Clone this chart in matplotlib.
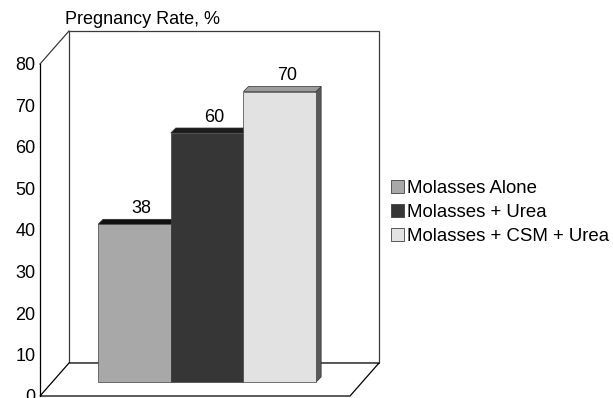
import matplotlib
matplotlib.use("Agg")
import matplotlib.pyplot as plt
from matplotlib.patches import Polygon, Rectangle, Patch

# -- Data ----------------------------------------------------------------
treatments = ["Molasses Alone", "Molasses + Urea", "Molasses + CSM + Urea"]
pregnancy_rate = [38, 60, 70]
yticks = [0, 10, 20, 30, 40, 50, 60, 70, 80]

# -- Styling -------------------------------------------------------------
front_colors = ["#a8a8a8", "#363636", "#e2e2e2"]
top_colors = ["#111111", "#1c1c1c", "#9c9c9c"]
side_colors = ["#444444", "#2a2a2a", "#5a5a5a"]
FS = 13
plt.rcParams["font.family"] = ["Liberation Sans", "DejaVu Sans"]

DPI = 100
W, H = 613, 398
fig = plt.figure(figsize=(W / DPI, H / DPI), dpi=DPI)

# front plane of the 3-D box, in pixels
ax_l, ax_b, ax_w, ax_h = 40, 2, 310, 332
ax = fig.add_axes([ax_l / W, ax_b / H, ax_w / W, ax_h / H])
xmin, xmax = -1.13, 3.135
ax.set_xlim(xmin, xmax)
ax.set_ylim(0, 80)

# pixel -> data conversions
ux = ax_w / (xmax - xmin)
uy = ax_h / 80.0

# depth offsets (pixels) converted to data units
wdx, wdy = 29 / ux, 33 / uy        # back wall
bdx, bdy = 12.3 / ux, 14 / uy      # front face of the columns
tdx, tdy = 5 / ux, 5 / uy          # thickness of the columns

line_kw = dict(clip_on=False, lw=0.9)

# back wall
ax.add_patch(Rectangle((xmin + wdx, wdy), xmax - xmin, 80, facecolor="white",
                       edgecolor="#3a3a3a", zorder=1, **line_kw))
# floor
ax.add_patch(Polygon([(xmin, 0), (xmax, 0), (xmax + wdx, wdy), (xmin + wdx, wdy)],
                     closed=True, facecolor="white", edgecolor="black",
                     zorder=1.5, **line_kw))
# left side wall top edge
ax.plot([xmin, xmin + wdx], [80, 80 + wdy], color="#3a3a3a", zorder=1.5, **line_kw)

# columns
x = list(range(len(pregnancy_rate)))
for i, v in enumerate(pregnancy_rate):
    z = 3 + i
    x0 = x[i] - 0.5 + bdx
    x1 = x[i] + 0.5 + bdx
    top = bdy + v
    ax.add_patch(Polygon([(x1, bdy), (x1 + tdx, bdy + tdy), (x1 + tdx, top + tdy), (x1, top)],
                         closed=True, facecolor=side_colors[i], edgecolor="#303030",
                         lw=0.5, zorder=z, clip_on=False))
    ax.add_patch(Polygon([(x0, top), (x1, top), (x1 + tdx, top + tdy), (x0 + tdx, top + tdy)],
                         closed=True, facecolor=top_colors[i], edgecolor="#303030",
                         lw=0.5, zorder=z, clip_on=False))
    ax.bar(x[i] + bdx, v, width=1, bottom=bdy, color=front_colors[i],
           edgecolor="#404040", linewidth=0.5, zorder=z, clip_on=False)
    ax.annotate(f"{v}", xy=(x[i] + bdx + tdx, top + tdy), xytext=(1.5, 4.5),
                textcoords="offset points", ha="center", va="baseline",
                fontsize=FS, zorder=10)

# axis
for s in ["top", "right", "bottom"]:
    ax.spines[s].set_visible(False)
ax.spines["left"].set_linewidth(0.9)
ax.spines["left"].set_zorder(2)
ax.patch.set_visible(False)
ax.set_xticks([])
ax.set_yticks(yticks)
ax.tick_params(axis="y", length=0, pad=3.3, labelsize=FS)

fig.text(65 / W, 1 - 24 / H, "Pregnancy Rate, %", fontsize=FS, ha="left", va="baseline")

handles = [Patch(facecolor=front_colors[i], edgecolor="#404040", linewidth=0.6)
           for i in range(len(treatments))]
fig.legend(handles, treatments, loc="upper left", bbox_to_anchor=(391 / W, 1 - 180 / H),
           frameon=False, fontsize=13.4, handlelength=0.68, handleheight=0.68,
           handletextpad=0.18, labelspacing=0.38, borderpad=0, borderaxespad=0)

fig.savefig("out.png", dpi=DPI)
